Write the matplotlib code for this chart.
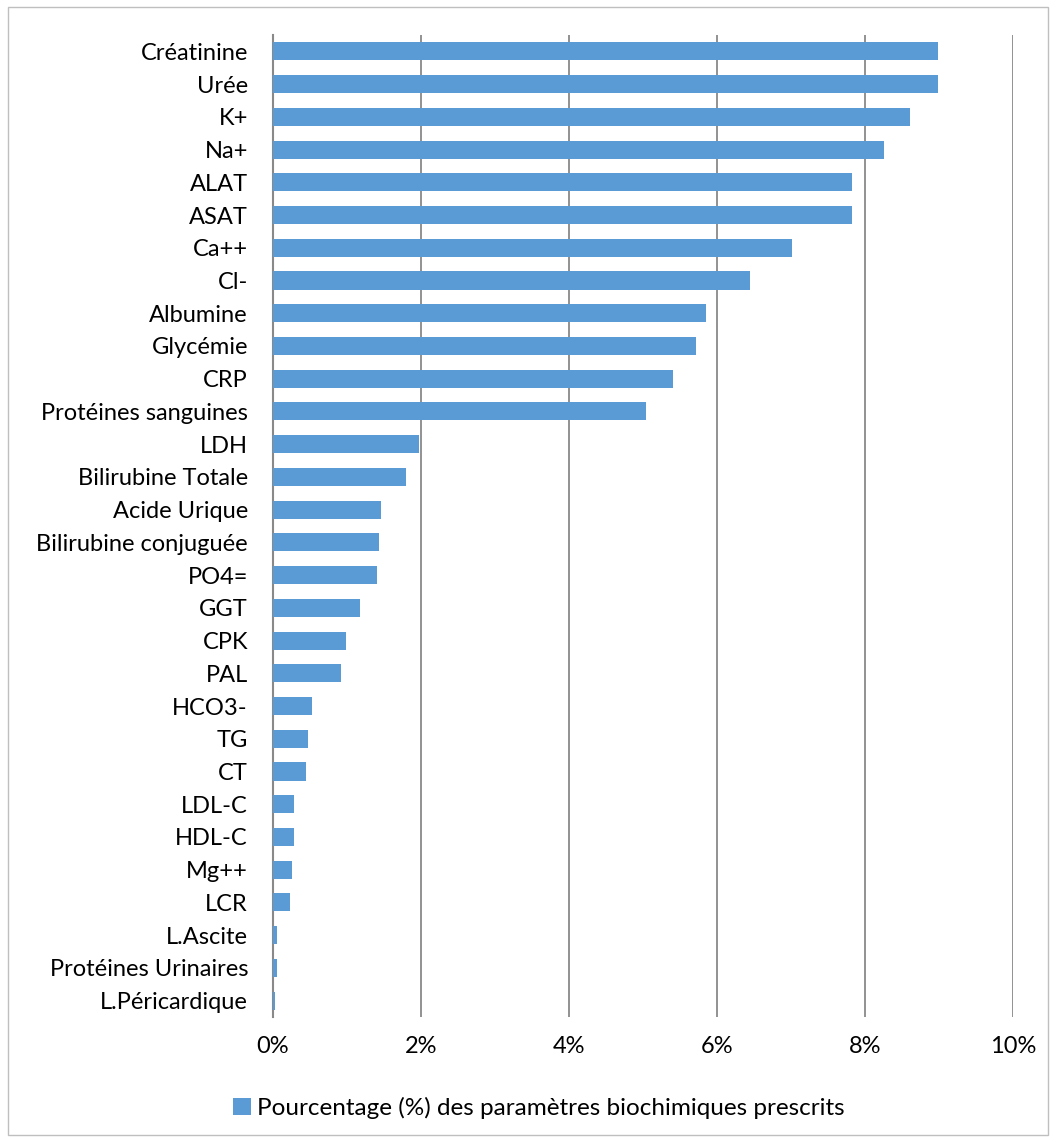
import matplotlib
matplotlib.use("Agg")
import matplotlib.pyplot as plt
from matplotlib.patches import Rectangle
from matplotlib.ticker import FuncFormatter

categories = ["Créatinine", "Urée", "K+", "Na+", "ALAT", "ASAT", "Ca++", "Cl-",
              "Albumine", "Glycémie", "CRP", "Protéines sanguines", "LDH",
              "Bilirubine Totale", "Acide Urique", "Bilirubine conjuguée", "PO4=",
              "GGT", "CPK", "PAL", "HCO3-", "TG", "CT", "LDL-C", "HDL-C", "Mg++",
              "LCR", "L.Ascite", "Protéines Urinaires", "L.Péricardique"]
values = [8.98, 8.98, 8.61, 8.25, 7.83, 7.83, 7.02, 6.45,
          5.85, 5.71, 5.40, 5.04, 1.97,
          1.80, 1.46, 1.43, 1.40,
          1.17, 0.98, 0.92, 0.53, 0.47, 0.44, 0.29, 0.29, 0.26,
          0.23, 0.05, 0.05, 0.03]
xticks = [0, 2, 4, 6, 8, 10]
legend_label = "Pourcentage (%) des paramètres biochimiques prescrits"

plt.rcParams['font.family'] = ['Lato', 'DejaVu Sans']

fig = plt.figure(figsize=(10.56, 11.42), dpi=100)
ax = fig.add_axes([273/1056, 1 - 1017/1142, 740/1056, 982/1142])

n = len(categories)
ypos = list(range(n))
bars = ax.barh(ypos, values, height=0.55, color="#5B9BD5", label=legend_label, zorder=3)
ax.set_ylim(n - 0.5, -0.5)
ax.set_xlim(0, 10)
ax.set_yticks(ypos)
ax.set_yticklabels(categories, fontsize=17, color="#000000")
ax.set_xticks(xticks)
ax.xaxis.set_major_formatter(FuncFormatter(lambda v, p: f"{int(v)}%"))
ax.tick_params(axis='x', labelsize=17, length=0, pad=14)
ax.tick_params(axis='y', length=0, pad=18)
ax.grid(axis='x', color="#898989", linewidth=1.3, zorder=0)
for s in ["top", "right", "bottom"]:
    ax.spines[s].set_visible(False)
ax.spines["left"].set_color("#898989")
ax.spines["left"].set_linewidth(1.5)
ax.spines["left"].set_zorder(2)

leg = fig.legend(handles=[bars], labels=[legend_label], loc="center",
                 bbox_to_anchor=(539/1056, 1 - 1108/1142), frameon=False,
                 fontsize=17.5, handlelength=0.75, handleheight=0.75, handletextpad=0.25)

fig.patches.append(Rectangle((8/1056, 7/1142), 1040/1056, 1128/1142, transform=fig.transFigure,
                             fill=False, edgecolor="#BFBFBF", linewidth=1))

fig.savefig("out.png", dpi=100)
